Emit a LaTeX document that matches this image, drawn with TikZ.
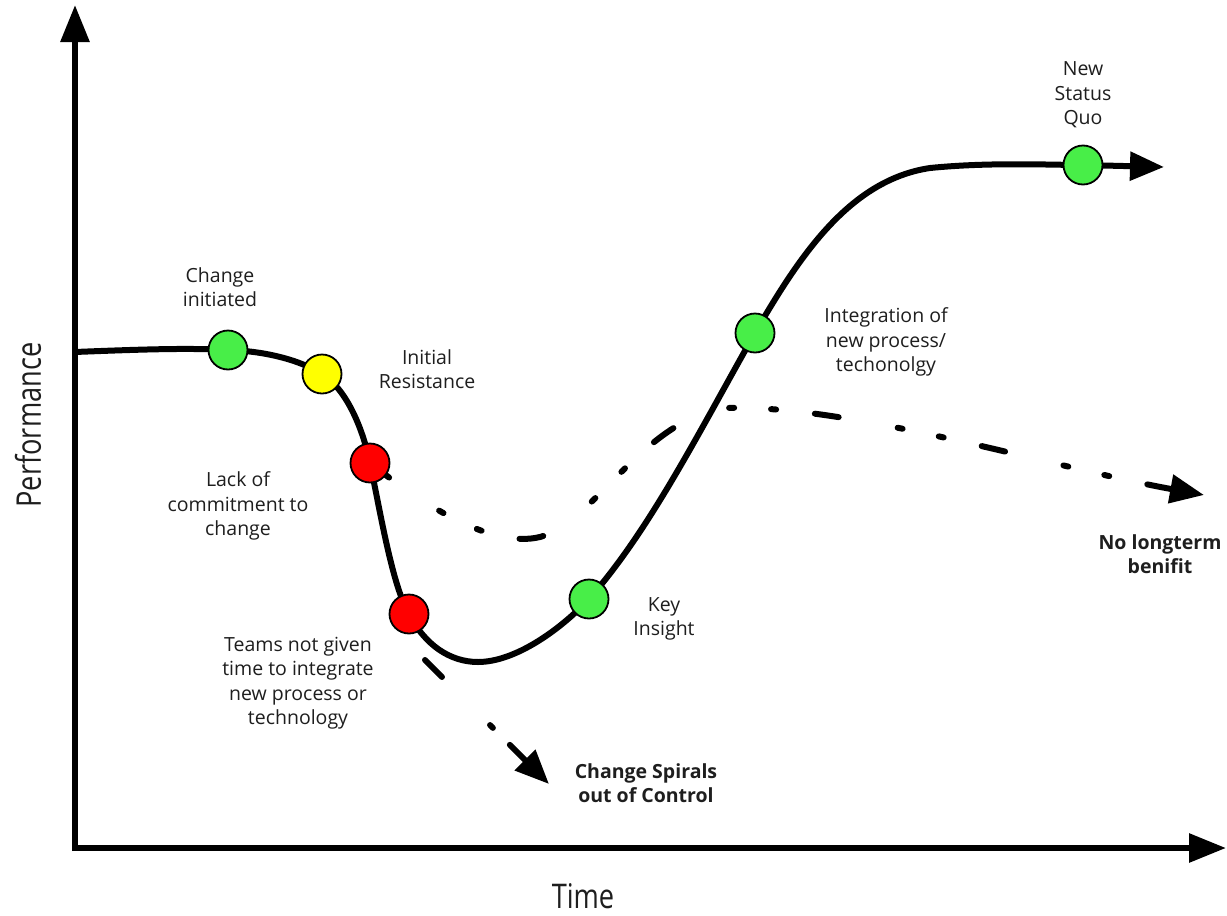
\documentclass[tikz,border=0pt]{standalone}
\usepackage{fontspec}
\setmainfont{Open Sans}
\usetikzlibrary{arrows.meta}
\definecolor{dgreen}{RGB}{72,238,72}
\definecolor{dyellow}{RGB}{255,255,0}
\definecolor{dred}{RGB}{255,0,0}
\definecolor{txt}{RGB}{30,30,30}
\begin{document}
\begin{tikzpicture}[x=1pt,y=-1pt,
  lbl/.style={align=center, font=\fontsize{19.5}{24.5}\selectfont, text=txt, inner sep=0pt},
  blbl/.style={align=center, font=\fontsize{19.5}{24.5}\selectfont\bfseries, text=txt, inner sep=0pt},
  axlbl/.style={font=\fontsize{34}{40}\selectfont, text=txt, inner sep=0pt},
  marker/.style={circle, draw=black, line width=1.8pt, minimum size=39pt, inner sep=0pt},
  axisline/.style={line width=6pt, -{Triangle[length=37pt,width=28pt]}},
  curveline/.style={line width=6pt, line cap=round},
  dashline/.style={line width=6pt, line cap=round},
  tip/.style={-{Triangle[length=34pt,width=28pt]}}
]
\useasboundingbox[fill=white] (0,0) rectangle (1227,916);
% axes
\coordinate (yb) at (75,851);
\coordinate (yt) at (75,5);
\coordinate (xl) at (72,848);
\coordinate (xr) at (1226,848);
\draw[axisline] (yb) -- (yt);
\draw[axisline] (xl) -- (xr);
% curve points
\coordinate (s) at (75,352);
\coordinate (p1) at (228,350);
\coordinate (p2) at (322,374);
\coordinate (p3) at (370,463);
\coordinate (p4) at (409,614);
\coordinate (b) at (478,662);
\coordinate (p5) at (589,599);
\coordinate (p6) at (755,333);
\coordinate (k) at (930,168);
\coordinate (p7) at (1083,165);
\coordinate (e) at (1164,167);
\coordinate (m1) at (535,538);
\coordinate (m2) at (725,408);
\coordinate (q1) at (1204,495);
\coordinate (r0) at (425,660);
\coordinate (q2) at (549,784);
% dashed branches
\draw[dashline, dash pattern=on 24pt off 60pt on 5pt off 37pt on 5pt off 39pt, tip]
  (p3) .. controls (430,510) and (490,545) .. (m1)
       .. controls (590,530) and (640,420) .. (m2)
       .. controls (850,404) and (1050,467) .. (q1);
\draw[dashline, dash pattern=on 24pt off 68pt on 4pt off 24pt on 30pt off 10pt, tip]
  (r0) -- (q2);
% main curve
\draw[curveline]
  (s) .. controls (150,349) and (190,348) .. (p1)
      .. controls (265,351) and (300,360) .. (p2)
      .. controls (345,388) and (362,425) .. (p3)
      .. controls (380,510) and (392,585) .. (p4)
      .. controls (425,645) and (450,662) .. (b)
      .. controls (515,662) and (560,630) .. (p5)
      .. controls (650,530) and (700,430) .. (p6)
      .. controls (800,255) and (850,180) .. (k)
      .. controls (990,162) and (1050,165) .. (p7);
\draw[curveline, line cap=butt, tip] (p7) -- (e);
% markers
\node[marker, fill=dgreen] (c1) at (p1) {};
\node[marker, fill=dyellow] (c2) at (p2) {};
\node[marker, fill=dred] (c3) at (p3) {};
\node[marker, fill=dred] (c4) at (p4) {};
\node[marker, fill=dgreen] (c5) at (p5) {};
\node[marker, fill=dgreen] (c6) at (p6) {};
\node[marker, fill=dgreen] (c7) at (p7) {};
% labels
\node[lbl] (l1) at (220,287) {Change\\initiated};
\node[lbl] (l2) at (427,369) {Initial\\Resistance};
\node[lbl] (l3) at (238,506) {Lack of\\commitment to\\change};
\node[lbl] (l4) at (298,683) {Teams not given\\time to integrate\\new process or\\technology};
\node[lbl] (l5) at (664,619) {Key\\Insight};
\node[lbl] (l6) at (886,342) {Integration of\\new process/\\techonolgy};
\node[lbl] (l7) at (1083,95) {New\\Status\\Quo};
\node[blbl] (l8) at (646,783) {Change Spirals\\out of Control};
\node[blbl] (l9) at (1160,554) {No longterm\\benifit};
\node[axlbl, rotate=90] (ya) at (28,425) {\scalebox{0.8}[1]{Performance}};
\node[axlbl] (xa) at (583,896) {\scalebox{0.8}[1]{Time}};
\end{tikzpicture}
\end{document}
